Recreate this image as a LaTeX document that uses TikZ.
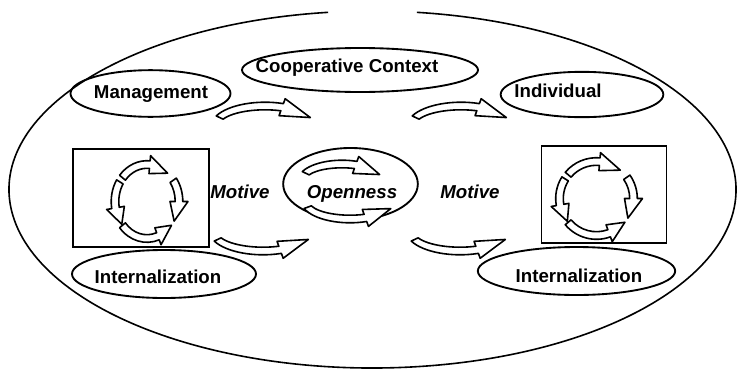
\documentclass[tikz,border=0pt]{standalone}
\usepackage{fontspec}
\setmainfont{Liberation Sans}
\usetikzlibrary{shapes.geometric}

% curved band with a head: centre, x radius, y radius, tail angle, head angle, tip angle
\newcommand{\bandarrow}[6]{%
  \filldraw[curl, shift={#1}]
    (#4:#2+3.8 and #3+3.8) arc[start angle=#4, end angle=#5, x radius=#2+3.8, y radius=#3+3.8]
    -- (#5:#2+9 and #3+9) -- (#6:#2 and #3) -- (#5:#2-9 and #3-9)
    -- (#5:#2-3.8 and #3-3.8) arc[start angle=#5, end angle=#4, x radius=#2-3.8, y radius=#3-3.8]
    -- cycle;
}

\begin{document}
\begin{tikzpicture}[x=0.75pt, y=0.75pt,
    oval/.style={draw, ellipse, line width=1.4pt, inner sep=0pt},
    frame/.style={draw, rectangle, line width=1.4pt, inner sep=0pt},
    word/.style={font=\fontsize{14}{16}\selectfont\bfseries, anchor=base},
    slant/.style={word, font=\fontsize{14}{16}\selectfont\bfseries\itshape},
    curl/.style={draw, fill=white, line width=1.2pt, line join=round}]
    \useasboundingbox (0,0) rectangle (738,369);

    % outer context
    \draw[line width=1.2pt, shift={(372.5,179.5)}] (97:363.5 and 178.5)
        arc[start angle=97, end angle=443, x radius=363.5, y radius=178.5];

    \node[oval, minimum width=177pt, minimum height=33pt] (coop) at (360,299) {};
    \node[oval, minimum width=120pt, minimum height=35pt] (mgmt) at (150.5,275.5) {};
    \node[oval, minimum width=122pt, minimum height=34pt] (indiv) at (582,274.5) {};
    \node[oval, minimum width=101pt, minimum height=54pt] (open) at (350.5,185) {};
    \node[oval, minimum width=138pt, minimum height=36pt] (internl) at (164,95) {};
    \node[oval, minimum width=148pt, minimum height=36pt] (internr) at (576.5,98) {};

    \node[frame, minimum width=102pt, minimum height=73.5pt] (lbox) at (141,171) {};
    \node[frame, minimum width=93.75pt, minimum height=73.2pt] (rbox) at (604,174.5) {};

    \node[word] (cooptext) at (347,297) {Cooperative Context};
    \node[word] (mgmttext) at (151,271) {Management};
    \node[word] (inditext) at (558,272) {Individual};
    \node[slant] (motivel) at (240,171) {Motive};
    \node[slant] (opentext) at (352,171) {Openness};
    \node[slant] (motiver) at (470,171) {Motive};
    \node[word] (intltext) at (158,86) {Internalization};
    \node[word] (intrtext) at (579,87) {Internalization};

    % arches and bowls
    \foreach \cx/\cy/\rx/\ry/\tail/\head/\tip in
        {265/243/50/20/155/70/25, 461/243/50/20/155/70/25,
         263/138/50/20/205/290/335, 460/138/50/20/205/290/335,
         342/189/40/16/155/70/20, 350/168/45/18/200/290/335}
        \bandarrow{(\cx,\cy)}{\rx}{\ry}{\tail}{\head}{\tip};

    % rings inside the boxes
    \foreach \cx/\cy/\rx/\ry in {147/167.5/32/37, 596.5/170.5/37/37}
        \foreach \tail/\head/\tip in {140/85/50, 35/0/-32, 220/290/320, 148/190/218}
            \bandarrow{(\cx,\cy)}{\rx}{\ry}{\tail}{\head}{\tip};
\end{tikzpicture}
\end{document}
